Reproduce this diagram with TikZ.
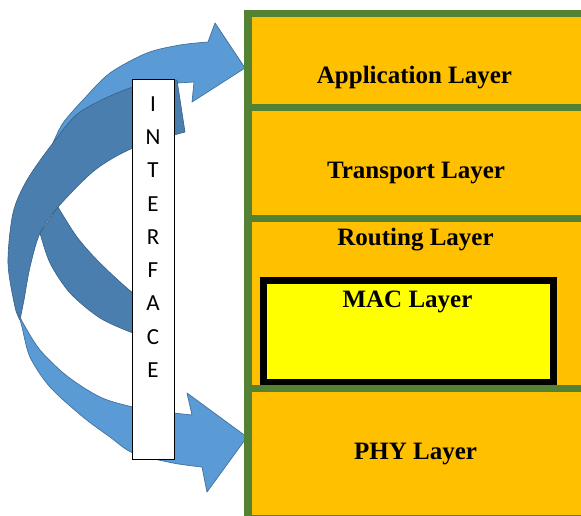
\documentclass[tikz,border=0pt]{standalone}
\usepackage{fontspec}
\setmainfont{Liberation Serif}
\newfontfamily\ifacefont{Carlito}
\definecolor{frontblue}{HTML}{5B9BD5}
\definecolor{backblue}{HTML}{4A7EAF}
\definecolor{edgeblue}{HTML}{41719C}
\definecolor{layergreen}{HTML}{548235}
\definecolor{layerorange}{HTML}{FFC000}
\definecolor{macyellow}{HTML}{FFFF00}
\begin{document}
\begin{tikzpicture}[x=1pt,y=-1pt,
  front/.style={fill=frontblue, draw=edgeblue, line width=0.7pt, line join=round},
  back/.style={fill=backblue, draw=edgeblue!85!black, line width=0.6pt, line join=round},
  layerbox/.style={rectangle, fill=layerorange, draw=layergreen, line width=7.5pt,
                   outer sep=0pt, inner sep=0pt, anchor=north west, minimum width=352pt},
  macbox/.style={rectangle, fill=macyellow, draw=black, line width=6.5pt,
                 outer sep=0pt, inner sep=0pt},
  lbl/.style={font=\bfseries\fontsize{25}{30}\selectfont, inner sep=0pt, anchor=base},
  ifacebox/.style={rectangle, fill=white, draw=black, line width=0.8pt,
                   minimum width=42pt, minimum height=380pt, inner sep=0pt},
  ifacetext/.style={font=\ifacefont\fontsize{23}{33.25}\selectfont, align=center, inner sep=0pt}
]
\useasboundingbox (0,0) rectangle (581,515);
\fill[white] (0,0) rectangle (581,515);

% upper curved arrow: front ribbon with its head
\path[front] plot[smooth] coordinates {(53,143) (63,123) (83,100) (110,73) (147,53) (180,45) (208,42)}
  -- (215,23) -- (245,68) -- (192,102) -- (194,82)
  -- plot[smooth] coordinates {(177,83) (130,92) (85,115) (53,143)} -- cycle;

% upper curved arrow: back ribbon down to its tail
\path[back] plot[smooth] coordinates {(150,300) (133,293) (100,263) (77,237) (58,207)}
  -- plot[smooth] coordinates {(40,233) (50,263) (70,293) (100,318) (133,333) (150,337)} -- cycle;

% lower curved arrow: back ribbon from its tail
\path[back] plot[smooth] coordinates {(177,80) (130,88) (80,112) (53,143) (27,180) (13,213) (8,263) (15,307) (20,320)}
  -- plot[smooth] coordinates {(20,320) (24,300) (30,267) (40,233) (58,207) (95,170) (133,148) (185,132)} -- cycle;

% lower curved arrow: front ribbon with its head
\path[front] plot[smooth] coordinates {(18,312) (22,327) (30,357) (50,387) (83,417) (110,437) (133,453) (173,463) (202,467)}
  -- (207,492) -- (247,437) -- (187,393) -- (192,415)
  -- plot[smooth] coordinates {(173,413) (133,407) (100,397) (67,376) (40,350) (23,323) (18,312)} -- cycle;

% protocol stack
\node[layerbox, minimum height=94pt]  (app)     at (248,13.5)  {};
\node[layerbox, minimum height=111pt] (trans)   at (248,107.5) {};
\node[layerbox, minimum height=170pt] (routing) at (248,218.5) {};
\node[macbox, minimum width=290pt, minimum height=101.5pt] (mac) at (408.7,331.25) {};
\node[layerbox, minimum height=130pt] (phy)     at (248,388.5) {};

\node[lbl] (applbl)   at (414.5,83)  {Application Layer};
\node[lbl] (translbl) at (416,178)   {Transport Layer};
\node[lbl] (routelbl) at (415.5,245) {Routing Layer};
\node[lbl] (maclbl)   at (407.5,307) {MAC Layer};
\node[lbl] (phylbl)   at (415.5,459) {PHY Layer};

% interface bar
\node[ifacebox] (iface) at (153,269) {};
\node[ifacetext] (ifacelbl) at (153,237) {I\\N\\T\\E\\R\\F\\A\\C\\E};
\end{tikzpicture}
\end{document}
